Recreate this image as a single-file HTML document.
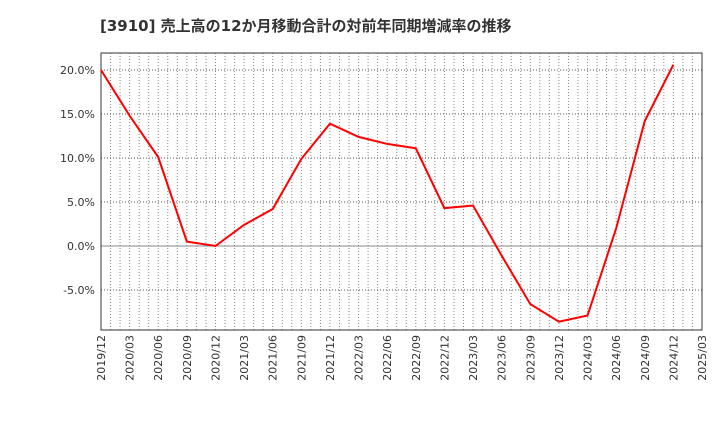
<!DOCTYPE html>
<html><head><meta charset="utf-8"><style>
body{margin:0;background:#fff;font-family:"DejaVu Sans","Noto Sans CJK JP",sans-serif;}
</style></head><body>
<svg width="720" height="440" xmlns="http://www.w3.org/2000/svg">
<text x="100" y="31" font-size="15" font-weight="bold" fill="#333" font-family="DejaVu Sans, Noto Sans CJK JP, sans-serif">[3910]  売上高の12か月移動合計の対前年同期増減率の推移</text>
<g id="grid"></g><g id="axes"></g><g id="series"></g>
</svg>
<script>
const categories=["2019/12","2020/03","2020/06","2020/09","2020/12","2021/03","2021/06","2021/09","2021/12","2022/03","2022/06","2022/09","2022/12","2023/03","2023/06","2023/09","2023/12","2024/03","2024/06","2024/09","2024/12"];
const values=[20.0,14.8,10.1,0.5,0.0,2.4,4.2,9.9,13.9,12.4,11.6,11.1,4.3,4.6,-1.1,-6.6,-8.6,-7.9,2.0,14.2,20.6];
const xTickLabels=["2019/12","2020/03","2020/06","2020/09","2020/12","2021/03","2021/06","2021/09","2021/12","2022/03","2022/06","2022/09","2022/12","2023/03","2023/06","2023/09","2023/12","2024/03","2024/06","2024/09","2024/12","2025/03"];
const yTicks=[20,15,10,5,0,-5];
const NS="http://www.w3.org/2000/svg";
const L=101,R=702,T=53,B=330;
const q=(R-L)/21;
const x=i=>L+i*q;
const y=v=>246-v*8.8;
function mk(tag,attrs,parent){const e=document.createElementNS(NS,tag);for(const k in attrs)e.setAttribute(k,attrs[k]);parent.appendChild(e);return e;}
const g=document.getElementById('grid'),a=document.getElementById('axes'),s=document.getElementById('series');
for(let m=1;m<63;m++){const xx=L+m*q/3;const ln=mk('line',{x1:xx,x2:xx,y1:T,y2:B,stroke:'#888','stroke-width':1,'stroke-dasharray':'1,2'},g);

}
yTicks.forEach(v=>{const yy=y(v);const ln=mk('line',{x1:L,x2:R,y1:yy,y2:yy,stroke:v===0?'#888':'#555','stroke-width':1,'stroke-dasharray':v===0?'':'1,2'},g);


const t=mk('text',{x:L-6,y:yy+4,'text-anchor':'end','font-size':11,fill:'#333'},a);t.textContent=v.toFixed(1)+'%';

});
const fr=mk('rect',{x:L,y:T,width:R-L,height:B-T,fill:'none',stroke:'#333','stroke-width':1},a);


xTickLabels.forEach((c,i)=>{const xx=x(i);const t=mk('text',{x:0,y:0,transform:`translate(${xx+4},${B+5}) rotate(-90)`,'text-anchor':'end','font-size':11,fill:'#333'},a);t.textContent=c;

});
const pl=mk('polyline',{points:values.map((v,i)=>x(i)+','+y(v)).join(' '),fill:'none',stroke:'#f00','stroke-width':2},s);


</script>
</body></html>
